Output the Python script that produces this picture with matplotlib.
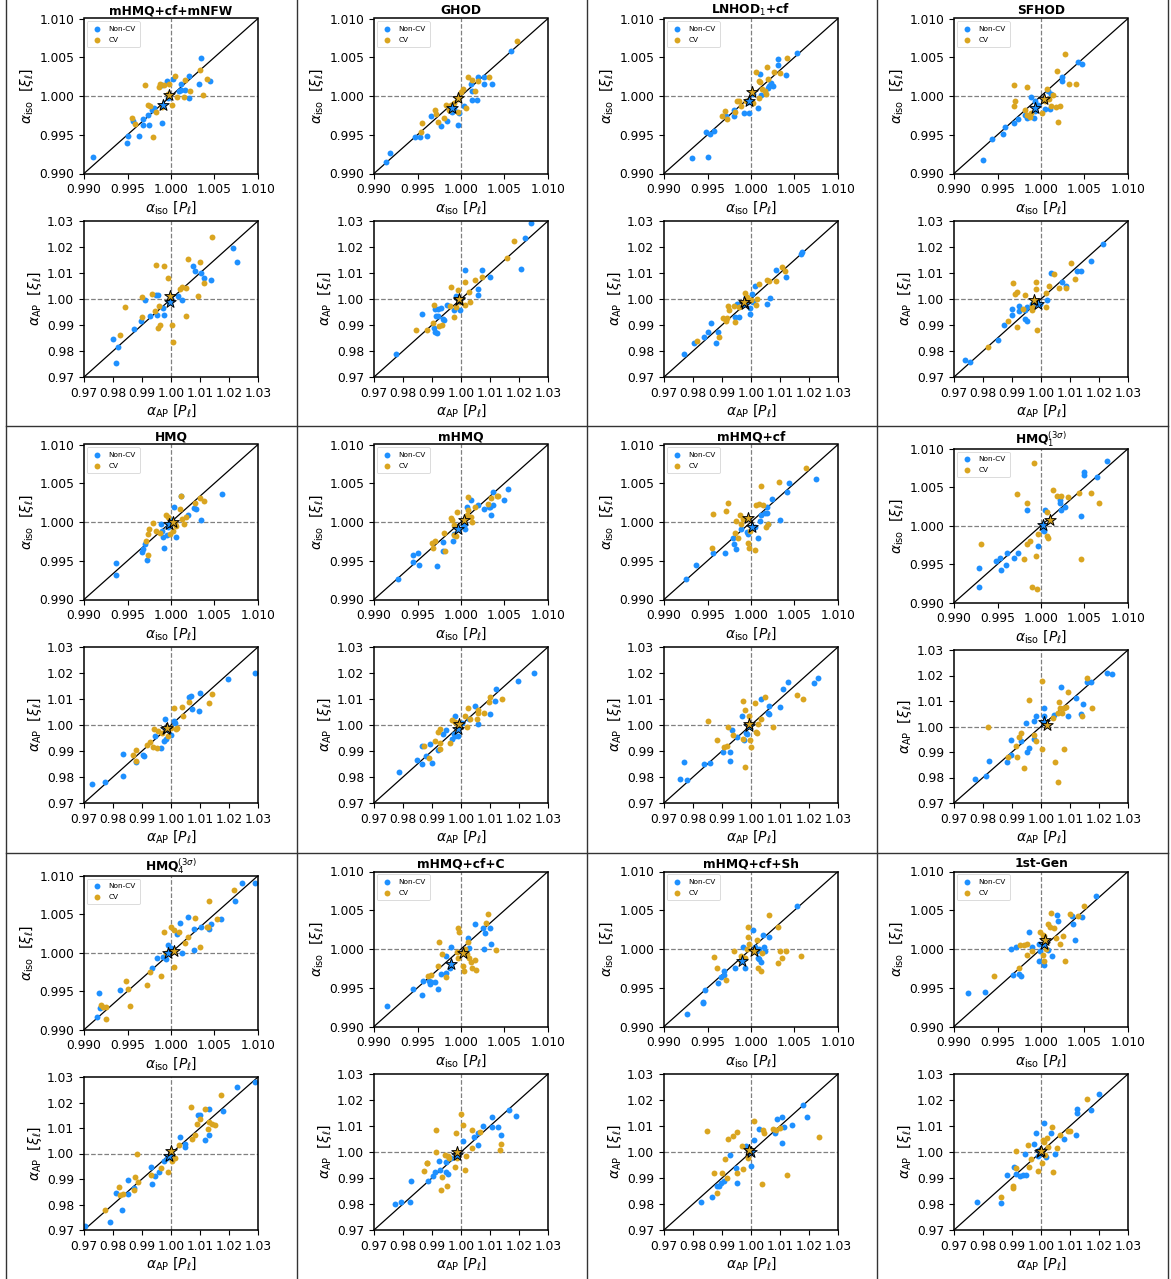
import matplotlib
matplotlib.use('Agg')
import matplotlib.pyplot as plt
from matplotlib.lines import Line2D

# ---------------- titles ----------------
titles = ['mHMQ+cf+mNFW', 'GHOD', r'LNHOD$_1$+cf', 'SFHOD',
          'HMQ', 'mHMQ', 'mHMQ+cf', r'HMQ$_1^{(3\sigma)}$',
          r'HMQ$_4^{(3\sigma)}$', 'mHMQ+cf+C', 'mHMQ+cf+Sh', '1st-Gen']

iso_ticks = [0.990, 0.995, 1.000, 1.005, 1.010]
ap_ticks = [0.97, 0.98, 0.99, 1.00, 1.01, 1.02, 1.03]

# ---------------- data: (alpha[P_l], alpha[xi_l]) ----------------
# Panel 1: mHMQ+cf+mNFW
p01_iso_ncv = [(0.9910,0.9921),(1.0035,1.0049),(1.0045,1.0020),(1.0032,1.0015),(1.0021,1.0026),(1.0012,1.0016),
               (1.0016,1.0008),(1.0012,1.0008),(1.0009,1.0006),(1.0021,0.9998),(1.0002,1.0022),(0.9995,1.0019),
               (0.9990,1.0014),(0.9997,0.9997),(0.9981,0.9984),(0.9978,0.9982),(0.9974,0.9975),(0.9968,0.9970),
               (0.9968,0.9962),(0.9975,0.9962),(0.9990,0.9965),(0.9963,0.9949),(0.9951,0.9948),(0.9949,0.9940),(0.9956,0.9968)]
p01_iso_cv = [(0.9970,1.0014),(0.9987,1.0016),(0.9986,1.0011),(0.9992,1.0014),(0.9998,1.0016),(1.0005,1.0026),
              (1.0016,1.0021),(1.0033,1.0034),(1.0041,1.0022),(1.0022,1.0006),(1.0037,1.0001),(1.0015,0.9999),
              (1.0007,0.9999),(1.0001,0.9989),(0.9990,0.9986),(0.9983,0.9980),(0.9974,0.9988),(0.9976,0.9987),
              (0.9955,0.9972),(0.9959,0.9964),(0.9979,0.9947),(0.9996,1.0002)]
p01_ap_ncv = [(0.9801,0.9845),(0.9816,0.9814),(0.9811,0.9754),(0.9873,0.9885),(0.9897,0.9915),(0.9909,0.9995),
              (0.9929,0.9936),(0.9952,0.9937),(0.9947,1.0014),(0.9956,1.0017),(0.9974,0.9964),(0.9975,0.9937),
              (0.9994,0.9988),(1.0000,1.0001),(1.0023,1.0010),(1.0037,0.9997),(1.0075,1.0126),(1.0083,1.0106),
              (1.0103,1.0100),(1.0113,1.0081),(1.0139,1.0074),(1.0214,1.0196),(1.0229,1.0144)]
p01_ap_cv = [(0.9824,0.9863),(0.9842,0.9971),(0.9901,1.0009),(0.9900,0.9931),(0.9934,1.0018),(0.9949,1.0132),
             (0.9976,1.0128),(0.9988,1.0080),(0.9960,0.9972),(0.9944,0.9953),(0.9955,0.9888),(0.9963,0.9901),
             (1.0003,0.9899),(1.0007,0.9836),(1.0052,0.9935),(1.0053,1.0044),(1.0037,1.0046),(1.0032,1.0038),
             (1.0057,1.0155),(1.0100,1.0142),(1.0115,1.0063),(1.0094,1.0010),(1.0142,1.0237)]

# Panel 2: GHOD
p02_iso_ncv = [(0.9914,0.9915),(0.9918,0.9927),(0.9947,0.9947),(0.9953,0.9947),(0.9961,0.9949),(0.9965,0.9974),
               (0.9977,0.9961),(0.9984,0.9968),(0.9997,0.9963),(0.9988,0.9981),(0.9992,0.9983),(0.9998,0.9978),
               (1.0003,0.9987),(1.0013,0.9995),(1.0018,0.9995),(1.0011,1.0016),(1.0013,1.0006),(1.0020,1.0024),
               (1.0026,1.0015),(1.0026,1.0025),(1.0036,1.0016),(1.0057,1.0058),(0.9987,0.9984),(0.9990,0.9979)]
p02_iso_cv = [(0.9954,0.9953),(0.9955,0.9965),(0.9970,0.9982),(0.9971,0.9977),(0.9974,0.9966),(0.9981,0.9971),
              (0.9983,0.9989),(0.9986,0.9982),(0.9989,0.9989),(0.9996,0.9980),(1.0006,0.9985),(1.0000,1.0005),
              (1.0002,1.0009),(1.0008,1.0025),(1.0013,1.0021),(1.0019,1.0019),(1.0016,1.0007),(1.0032,1.0025),
              (1.0064,1.0071),(0.9992,0.9991),(0.9997,0.9996)]
p02_ap_ncv = [(0.9776,0.9787),(0.9866,0.9944),(0.9911,0.9960),(0.9919,0.9960),(0.9931,0.9967),(0.9915,0.9935),
              (0.9922,0.9933),(0.9938,0.9924),(0.9942,0.9918),(0.9908,0.9887),(0.9911,0.9873),(0.9917,0.9869),
              (0.9951,0.9978),(0.9975,0.9956),(0.9995,0.9956),(0.9984,1.0013),(1.0013,1.0113),(1.0060,1.0040),
              (1.0060,1.0017),(1.0073,1.0110),(1.0100,1.0086),(1.0206,1.0115),(1.0221,1.0233),(1.0242,1.0291)]
p02_ap_cv = [(0.9844,0.9879),(0.9882,0.9879),(0.9908,0.9978),(0.9905,0.9908),(0.9923,0.9895),(0.9936,0.9901),
             (0.9967,1.0046),(0.9989,1.0036),(0.9975,0.9931),(0.9961,0.9973),(0.9982,0.9969),(1.0013,1.0065),
             (1.0047,1.0074),(1.0072,1.0085),(1.0029,1.0027),(1.0030,0.9988),(1.0013,0.9976),(1.0157,1.0158),
             (1.0182,1.0222),(0.9995,0.9988)]

# Panel 3: LNHOD1+cf
p03_iso_ncv = [(0.9932,0.9920),(0.9950,0.9921),(0.9948,0.9954),(0.9953,0.9951),(0.9958,0.9955),(0.9971,0.9974),
               (0.9981,0.9974),(0.9981,0.9982),(0.9992,0.9978),(0.9998,0.9978),(0.9997,0.9992),(1.0008,0.9984),
               (1.0011,1.0001),(1.0010,1.0028),(1.0020,1.0010),(1.0021,1.0013),(1.0025,1.0013),(1.0023,1.0017),
               (1.0031,1.0048),(1.0031,1.0040),(1.0040,1.0027),(1.0053,1.0056),(1.0002,1.0003)]
p03_iso_cv = [(0.9967,0.9974),(0.9970,0.9981),(0.9972,0.9970),(0.9984,0.9994),(0.9986,0.9994),(0.9989,0.9987),
              (0.9982,0.9979),(0.9994,0.9993),(1.0002,0.9991),(1.0006,1.0031),(1.0009,1.0020),(1.0010,1.0018),
              (1.0018,1.0037),(1.0020,1.0022),(1.0016,1.0006),(1.0009,0.9997),(1.0013,1.0009),(1.0027,1.0031),
              (1.0033,1.0030),(1.0041,1.0049),(1.0017,1.0003)]
p03_ap_ncv = [(0.9769,0.9788),(0.9805,0.9829),(0.9838,0.9852),(0.9850,0.9874),(0.9861,0.9906),(0.9886,0.9872),
              (0.9878,0.9832),(0.9946,0.9929),(0.9959,0.9929),(0.9951,0.9979),(0.9984,1.0009),(0.9995,0.9942),
              (0.9998,0.9964),(1.0007,0.9990),(1.0005,1.0019),(1.0013,1.0051),(1.0055,0.9979),(1.0067,1.0005),
              (1.0086,1.0112),(1.0122,1.0086),(1.0173,1.0173),(1.0175,1.0179)]
p03_ap_cv = [(0.9814,0.9838),(0.9890,0.9855),(0.9903,0.9926),(0.9917,0.9926),(0.9915,0.9915),(0.9920,0.9973),
             (0.9923,0.9958),(0.9943,0.9973),(0.9945,0.9913),(0.9958,0.9969),(0.9978,1.0024),(0.9985,1.0009),
             (1.0000,0.9996),(1.0018,0.9977),(1.0019,1.0000),(1.0028,1.0058),(1.0054,1.0073),(1.0061,1.0069),
             (1.0086,1.0068),(1.0106,1.0124),(1.0117,1.0108)]

# Panel 4: SFHOD
p04_iso_ncv = [(0.9933,0.9918),(0.9944,0.9945),(0.9956,0.9951),(0.9959,0.9960),(0.9969,0.9965),(0.9974,0.9970),
               (0.9982,0.9975),(0.9984,0.9972),(0.9988,0.9999),(0.9992,0.9971),(0.9993,0.9993),(0.9993,0.9981),
               (0.9996,0.9989),(1.0005,0.9983),(1.0008,1.0006),(1.0011,1.0003),(1.0010,0.9983),(1.0024,1.0024),
               (1.0024,1.0020),(1.0042,1.0044),(1.0047,1.0041),(1.0003,0.9995)]
p04_iso_cv = [(0.9969,1.0014),(0.9970,0.9994),(0.9969,0.9987),(0.9984,1.0011),(0.9982,0.9982),(0.9984,0.9975),
              (0.9987,0.9973),(0.9989,0.9978),(1.0001,0.9978),(1.0007,1.0009),(1.0009,0.9996),(1.0012,0.9987),
              (1.0014,1.0001),(1.0017,0.9986),(1.0022,0.9987),(1.0018,1.0032),(1.0020,0.9966),(1.0028,1.0054),
              (1.0032,1.0016),(1.0040,1.0015),(1.0005,0.9994)]
p04_ap_ncv = [(0.9737,0.9764),(0.9755,0.9758),(0.9850,0.9841),(0.9874,0.9899),(0.9900,0.9937),(0.9899,0.9963),
              (0.9924,0.9972),(0.9924,0.9953),(0.9944,0.9959),(0.9945,0.9922),(0.9951,0.9914),(0.9953,0.9969),
              (0.9970,0.9982),(0.9997,0.9982),(1.0021,0.9995),(1.0034,1.0101),(1.0073,1.0065),(1.0085,1.0049),
              (1.0123,1.0108),(1.0139,1.0108),(1.0171,1.0145),(1.0213,1.0212)]
p04_ap_cv = [(0.9818,0.9814),(0.9886,0.9914),(0.9917,0.9892),(0.9903,1.0060),(0.9909,1.0021),(0.9916,1.0027),
             (0.9946,1.0017),(0.9939,0.9962),(0.9968,0.9956),(0.9982,1.0065),(0.9982,1.0040),(0.9986,0.9879),
             (1.0017,0.9969),(1.0028,1.0050),(1.0016,1.0023),(1.0046,1.0097),(1.0062,1.0044),(1.0087,1.0042),
             (1.0104,1.0138),(1.0118,1.0078),(0.9969,0.9969)]

# Panel 5: HMQ
p05_iso_ncv = [(0.9937,0.9931),(0.9937,0.9947),(0.9972,0.9951),(0.9967,0.9961),(0.9968,0.9965),(0.9970,0.9971),
               (0.9990,0.9989),(0.9991,0.9981),(0.9992,0.9966),(0.9995,0.9983),(0.9997,0.9994),(1.0003,1.0020),
               (1.0006,0.9981),(1.0011,1.0034),(1.0019,1.0009),(1.0026,1.0018),(1.0029,1.0017),(1.0035,1.0002),
               (1.0059,1.0036),(1.0001,1.0003),(0.9989,0.9998)]
p05_iso_cv = [(0.9974,0.9958),(0.9971,0.9976),(0.9973,0.9984),(0.9975,0.9991),(0.9979,0.9999),(0.9983,0.9989),
              (0.9987,0.9986),(0.9994,1.0009),(0.9996,1.0006),(0.9999,0.9985),(1.0002,0.9988),(1.0006,0.9995),
              (1.0010,1.0017),(1.0011,1.0034),(1.0013,1.0004),(1.0015,0.9997),(1.0017,1.0007),(1.0028,1.0025),
              (1.0033,1.0031),(1.0038,1.0027),(1.0005,0.9998)]
p05_ap_ncv = [(0.9727,0.9775),(0.9771,0.9781),(0.9833,0.9887),(0.9835,0.9803),(0.9880,0.9859),(0.9904,0.9886),
              (0.9908,0.9882),(0.9946,0.9956),(0.9967,0.9913),(0.9975,0.9939),(0.9983,0.9946),(0.9979,1.0025),
              (0.9999,0.9961),(1.0011,1.0016),(1.0015,1.0006),(1.0061,1.0107),(1.0069,1.0112),(1.0071,1.0061),
              (1.0100,1.0122),(1.0097,1.0053),(1.0198,1.0176),(1.0290,1.0201)]
p05_ap_cv = [(0.9868,0.9884),(0.9878,0.9903),(0.9881,0.9862),(0.9917,0.9922),(0.9929,0.9936),(0.9937,0.9917),
             (0.9952,0.9913),(0.9940,0.9986),(0.9954,0.9977),(0.9968,0.9971),(0.9989,0.9956),(1.0009,1.0067),
             (1.0016,0.9984),(1.0019,0.9990),(1.0037,1.0070),(1.0040,1.0035),(1.0062,1.0089),(1.0132,1.0084),
             (1.0142,1.0120),(1.0000,0.9990)]

# Panel 6: mHMQ
p06_iso_ncv = [(0.9928,0.9926),(0.9945,0.9957),(0.9951,0.9960),(0.9945,0.9948),(0.9952,0.9944),(0.9972,0.9943),
               (0.9979,0.9963),(0.9979,0.9974),(0.9991,0.9975),(0.9992,0.9985),(1.0005,0.9991),(1.0005,0.9997),
               (1.0007,1.0019),(1.0011,1.0028),(1.0019,1.0022),(1.0026,1.0017),(1.0033,1.0020),(1.0034,1.0009),
               (1.0037,1.0022),(1.0037,1.0039),(1.0049,1.0029),(1.0054,1.0043),(1.0032,1.0019),(1.0002,0.9996)]
p06_iso_cv = [(0.9967,0.9973),(0.9970,0.9975),(0.9968,0.9966),(0.9981,0.9986),(0.9982,0.9963),(0.9988,1.0005),
              (0.9990,1.0003),(0.9992,0.9996),(0.9994,0.9982),(0.9995,1.0013),(1.0008,1.0032),(1.0008,1.0015),
              (1.0011,1.0006),(1.0013,1.0000),(1.0016,1.0020),(1.0031,1.0023),(1.0034,1.0031),(1.0041,1.0033),
              (1.0043,1.0033),(1.0007,1.0009),(0.9992,0.9983)]
p06_ap_ncv = [(0.9787,0.9821),(0.9849,0.9866),(0.9867,0.9850),(0.9866,0.9919),(0.9881,0.9881),(0.9892,0.9928),
              (0.9901,0.9853),(0.9922,0.9903),(0.9937,0.9964),(0.9948,0.9981),(0.9970,0.9945),(0.9981,1.0035),
              (0.9978,0.9958),(0.9990,0.9958),(1.0005,1.0006),(1.0029,1.0022),(1.0047,1.0073),(1.0057,1.0003),
              (1.0101,1.0041),(1.0117,1.0092),(1.0122,1.0137),(1.0198,1.0168),(1.0253,1.0201),(0.9975,0.9967)]
p06_ap_cv = [(0.9872,0.9919),(0.9889,0.9874),(0.9920,0.9973),(0.9927,0.9986),(0.9911,0.9937),(0.9929,0.9906),
             (0.9929,0.9932),(0.9963,0.9929),(0.9968,1.0019),(0.9979,1.0012),(0.9986,0.9990),(1.0015,1.0035),
             (1.0023,1.0067),(1.0021,0.9994),(1.0032,1.0024),(1.0056,1.0024),(1.0057,1.0056),(1.0080,1.0047),
             (1.0095,1.0088),(1.0101,1.0109),(1.0143,1.0101),(1.0058,1.0047)]

# Panel 7: mHMQ+cf
p07_iso_ncv = [(0.9925,0.9927),(0.9937,0.9945),(0.9956,0.9960),(0.9970,0.9960),(0.9979,0.9980),(0.9981,0.9972),
               (0.9983,0.9965),(0.9989,0.9991),(0.9995,0.9987),(0.9997,0.9984),(1.0008,0.9980),(1.0010,1.0001),
               (1.0011,1.0009),(1.0016,1.0012),(1.0018,1.0011),(1.0018,1.0019),(1.0020,0.9998),(1.0024,1.0030),
               (1.0033,1.0003),(1.0041,1.0039),(1.0044,1.0050),(1.0075,1.0056),(1.0005,0.9994)]
p07_iso_cv = [(0.9955,0.9966),(0.9956,1.0010),(0.9971,1.0014),(0.9973,1.0025),(0.9983,1.0001),(0.9982,0.9986),
              (0.9985,0.9979),(0.9987,1.0009),(0.9989,0.9997),(0.9991,1.0004),(0.9997,0.9973),(0.9998,0.9967),
              (1.0005,0.9964),(0.9999,0.9988),(1.0006,1.0022),(1.0009,1.0023),(1.0011,1.0046),(1.0014,1.0022),
              (1.0017,0.9994),(1.0020,0.9998),(1.0032,1.0052),(1.0063,1.0070)]
p07_ap_ncv = [(0.9755,0.9791),(0.9768,0.9857),(0.9780,0.9788),(0.9839,0.9849),(0.9857,0.9853),(0.9904,0.9897),
              (0.9927,0.9897),(0.9927,0.9862),(0.9936,0.9979),(0.9950,0.9955),(0.9969,1.0035),(0.9977,0.9942),
              (0.9987,0.9964),(1.0034,1.0099),(1.0061,1.0073),(1.0063,1.0041),(1.0060,1.0046),(1.0099,1.0071),
              (1.0112,1.0137),(1.0128,1.0167),(1.0217,1.0162),(1.0231,1.0181),(0.9983,0.9971)]
p07_ap_cv = [(0.9851,1.0017),(0.9882,0.9944),(0.9908,0.9917),(0.9917,0.9919),(0.9920,0.9994),(0.9937,0.9960),
             (0.9971,0.9945),(0.9974,1.0091),(0.9981,1.0058),(0.9979,0.9837),(0.9992,1.0035),(0.9995,0.9942),
             (0.9999,0.9915),(1.0013,1.0083),(1.0018,0.9973),(1.0023,1.0005),(1.0036,1.0022),(1.0048,1.0109),
             (1.0075,0.9992),(1.0159,1.0114),(1.0179,1.0101),(1.0022,0.9971)]

# Panel 8: HMQ_1^(3sigma)
p08_iso_ncv = [(0.9929,0.9921),(0.9929,0.9945),(0.9948,0.9954),(0.9953,0.9958),(0.9954,0.9943),(0.9960,0.9949),
               (0.9961,0.9964),(0.9969,0.9958),(0.9973,0.9964),(0.9984,1.0020),(0.9996,0.9974),(1.0002,0.9994),
               (1.0005,1.0020),(1.0023,1.0021),(1.0022,1.0034),(1.0022,1.0029),(1.0028,1.0024),(1.0046,1.0012),
               (1.0049,1.0070),(1.0050,1.0066),(1.0064,1.0063),(1.0076,1.0084),(1.0004,0.9993)]
p08_iso_cv = [(0.9931,0.9976),(0.9972,1.0041),(0.9984,1.0030),(0.9981,0.9957),(0.9984,0.9976),(0.9987,0.9980),
              (0.9990,0.9921),(0.9992,1.0082),(0.9994,0.9961),(0.9995,0.9918),(0.9996,0.9989),(1.0007,0.9987),
              (1.0008,0.9984),(1.0007,1.0018),(1.0014,1.0046),(1.0018,1.0039),(1.0023,1.0039),(1.0031,1.0037),
              (1.0044,1.0042),(1.0046,0.9957),(1.0057,1.0042),(1.0067,1.0030)]
p08_ap_ncv = [(0.9772,0.9796),(0.9812,0.9807),(0.9820,0.9866),(0.9884,0.9862),(0.9897,0.9887),(0.9898,0.9946),
              (0.9930,0.9942),(0.9947,1.0014),(0.9953,0.9900),(0.9959,0.9916),(0.9976,1.0021),(0.9976,0.9952),
              (0.9984,1.0041),(1.0010,1.0071),(1.0010,1.0041),(1.0045,1.0045),(1.0069,1.0155),(1.0094,1.0043),
              (1.0122,1.0110),(1.0139,1.0048),(1.0144,1.0089),(1.0159,1.0174),(1.0174,1.0174),(1.0229,1.0211),
              (1.0245,1.0204)]
p08_ap_cv = [(0.9818,1.0000),(0.9885,0.9881),(0.9916,0.9879),(0.9913,0.9925),(0.9923,0.9958),(0.9930,0.9975),
             (0.9942,0.9837),(0.9959,1.0102),(0.9976,0.9965),(0.9984,0.9945),(1.0005,0.9913),(1.0002,1.0178),
             (1.0047,0.9860),(1.0060,1.0054),(1.0062,1.0096),(1.0064,1.0073),(1.0073,1.0054),(1.0079,1.0073),
             (1.0079,0.9913),(1.0057,0.9781),(1.0086,1.0077),(1.0092,1.0136),(1.0157,1.0189),(1.0142,1.0041),
             (1.0177,1.0071),(1.0041,1.0034)]

# Panel 9: HMQ_4^(3sigma)
p09_iso_ncv = [(0.9915,0.9916),(0.9917,0.9948),(0.9918,0.9928),(0.9941,0.9952),(0.9978,0.9980),(0.9984,0.9993),
               (0.9994,0.9992),(0.9997,1.0010),(1.0000,1.0006),(1.0010,1.0038),(1.0007,1.0024),(1.0013,1.0000),
               (1.0019,1.0046),(1.0026,1.0031),(1.0027,1.0004),(1.0034,1.0034),(1.0044,1.0031),(1.0046,1.0037),
               (1.0057,1.0044),(1.0074,1.0067),(1.0082,1.0090),(1.0097,1.0090),(0.9991,0.9994)]
p09_iso_cv = [(0.9919,0.9932),(0.9922,0.9930),(0.9925,0.9930),(0.9925,0.9914),(0.9948,0.9963),(0.9951,0.9953),
              (0.9953,0.9931),(0.9972,0.9958),(0.9976,0.9975),(0.9988,0.9970),(0.9992,1.0027),(0.9994,1.0000),
              (1.0000,1.0033),(1.0003,0.9981),(1.0003,1.0029),(1.0009,1.0027),(1.0016,1.0013),(1.0020,1.0021),
              (1.0028,1.0045),(1.0033,1.0007),(1.0041,1.0033),(1.0044,1.0067),(1.0053,1.0044),(1.0072,1.0081),
              (1.0042,1.0034)]
p09_ap_ncv = [(0.9702,0.9717),(0.9791,0.9730),(0.9810,0.9847),(0.9830,0.9779),(0.9851,0.9841),(0.9853,0.9895),
              (0.9874,0.9864),(0.9931,0.9946),(0.9935,0.9879),(0.9945,0.9911),(0.9958,0.9929),(0.9975,0.9969),
              (0.9987,0.9982),(1.0031,1.0064),(1.0050,1.0038),(1.0050,1.0025),(1.0093,1.0152),(1.0100,1.0152),
              (1.0116,1.0054),(1.0131,1.0176),(1.0130,1.0071),(1.0178,1.0165),(1.0226,1.0261),(1.0288,1.0280)]
p09_ap_cv = [(0.9771,0.9779),(0.9819,0.9870),(0.9825,0.9837),(0.9834,0.9840),(0.9872,0.9855),(0.9877,0.9907),
             (0.9883,0.9999),(0.9887,0.9890),(0.9931,0.9916),(0.9966,0.9942),(0.9990,0.9929),(1.0002,0.9969),
             (1.0014,0.9982),(1.0028,1.0034),(1.0069,1.0181),(1.0072,1.0056),(1.0083,1.0073),(1.0088,1.0117),
             (1.0100,1.0136),(1.0118,1.0176),(1.0129,1.0096),(1.0132,1.0124),(1.0140,1.0115),(1.0152,1.0110),
             (1.0171,1.0228)]

# Panel 10: mHMQ+cf+C
p10_iso_ncv = [(0.9915,0.9927),(0.9945,0.9948),(0.9955,0.9941),(0.9956,0.9959),(0.9963,0.9959),(0.9964,0.9955),
               (0.9966,0.9957),(0.9970,0.9957),(0.9973,0.9949),(0.9977,0.9968),(0.9983,0.9969),(0.9987,0.9976),
               (0.9983,0.9991),(0.9988,1.0003),(1.0008,1.0014),(1.0005,0.9997),(1.0009,1.0001),(1.0016,1.0032),
               (1.0025,1.0027),(1.0026,1.0000),(1.0028,1.0021),(1.0033,1.0027),(1.0035,1.0007)]
p10_iso_cv = [(0.9962,0.9965),(0.9965,0.9966),(0.9974,0.9978),(0.9975,1.0009),(0.9978,0.9993),(0.9983,0.9964),
              (0.9997,1.0027),(0.9998,1.0022),(0.9995,0.9996),(0.9997,0.9988),(1.0002,0.9978),(1.0004,0.9971),
              (1.0008,1.0009),(1.0009,0.9988),(1.0011,0.9983),(1.0013,0.9976),(1.0016,0.9986),(1.0017,0.9973),
              (1.0029,1.0033),(1.0031,1.0045),(1.0040,0.9999),(1.0005,1.0000),(1.0007,0.9993)]
p10_ap_ncv = [(0.9774,0.9801),(0.9794,0.9806),(0.9823,0.9806),(0.9827,0.9890),(0.9886,0.9890),(0.9903,0.9906),
              (0.9909,0.9923),(0.9923,0.9964),(0.9929,0.9931),(0.9947,0.9922),(0.9956,0.9915),(0.9948,0.9960),
              (0.9967,0.9977),(1.0007,1.0044),(1.0044,1.0058),(1.0057,1.0028),(1.0058,1.0074),(1.0076,1.0101),
              (1.0107,1.0135),(1.0107,1.0097),(1.0127,1.0096),(1.0139,1.0064),(1.0167,1.0163),(1.0188,1.0140)]
p10_ap_cv = [(0.9874,0.9926),(0.9882,0.9958),(0.9883,0.9959),(0.9915,1.0083),(0.9915,0.9999),(0.9932,0.9853),
             (0.9936,0.9905),(0.9946,0.9987),(0.9950,0.9870),(0.9954,0.9983),(0.9958,0.9977),(0.9981,0.9942),
             (0.9983,1.0073),(1.0001,1.0147),(1.0006,1.0104),(1.0013,0.9932),(1.0018,0.9986),(1.0038,1.0083),
             (1.0037,1.0015),(1.0067,1.0078),(1.0133,1.0008),(1.0139,1.0031),(0.9986,0.9977)]

# Panel 11: mHMQ+cf+Sh
p11_iso_ncv = [(0.9926,0.9916),(0.9945,0.9932),(0.9945,0.9930),(0.9947,0.9947),(0.9962,0.9956),(0.9965,0.9964),
               (0.9969,0.9972),(0.9969,0.9967),(0.9982,0.9975),(0.9993,0.9976),(0.9991,1.0003),(1.0002,1.0025),
               (1.0005,1.0003),(1.0007,0.9997),(1.0008,0.9988),(1.0009,0.9987),(1.0011,0.9983),(1.0014,1.0018),
               (1.0016,0.9997),(1.0015,1.0002),(1.0021,1.0015),(1.0053,1.0056),(1.0009,1.0000)]
p11_iso_cv = [(0.9958,0.9990),(0.9961,0.9975),(0.9971,0.9960),(0.9981,0.9998),(0.9988,0.9991),(0.9989,0.9984),
              (0.9993,0.9989),(0.9996,1.0016),(0.9997,1.0028),(0.9998,1.0006),(1.0007,1.0011),(1.0008,0.9976),
              (1.0011,0.9972),(1.0013,0.9995),(1.0021,1.0044),(1.0031,1.0029),(1.0031,0.9982),(1.0033,0.9997),
              (1.0036,0.9989),(1.0040,0.9998),(1.0058,0.9991),(0.9995,1.0000)]
p11_ap_ncv = [(0.9826,0.9808),(0.9866,0.9826),(0.9883,0.9869),(0.9890,0.9871),(0.9898,0.9882),(0.9906,0.9888),
              (0.9929,0.9987),(0.9947,0.9938),(0.9953,0.9879),(1.0000,0.9947),(1.0011,1.0047),(1.0029,1.0088),
              (1.0083,1.0074),(1.0089,1.0127),(1.0107,1.0136),(1.0115,1.0097),(1.0107,1.0036),(1.0140,1.0105),
              (1.0178,1.0179),(1.0194,1.0133),(0.9984,1.0022)]
p11_ap_cv = [(0.9847,1.0082),(0.9873,0.9918),(0.9883,0.9841),(0.9900,0.9918),(0.9912,0.9973),(0.9917,0.9901),
             (0.9921,1.0051),(0.9938,1.0062),(0.9950,0.9921),(0.9953,1.0078),(0.9970,1.0024),(0.9974,0.9935),
             (0.9989,0.9977),(1.0011,1.0119),(1.0037,0.9877),(1.0040,1.0083),(1.0046,1.0072),(1.0076,1.0087),
             (1.0085,1.0085),(1.0099,1.0094),(1.0124,0.9912),(1.0233,1.0056)]

# Panel 12: 1st-Gen
p12_iso_ncv = [(0.9916,0.9943),(0.9936,0.9945),(0.9966,1.0000),(0.9971,1.0002),(0.9968,0.9966),(0.9975,0.9968),
               (0.9977,0.9965),(0.9986,1.0022),(0.9990,1.0003),(0.9998,1.0006),(0.9998,0.9984),(1.0004,0.9979),
               (1.0008,0.9999),(1.0013,0.9991),(1.0018,1.0044),(1.0019,1.0036),(1.0037,1.0032),(1.0036,1.0042),
               (1.0039,1.0011),(1.0047,1.0041),(1.0063,1.0069),(0.9999,0.9998)]
p12_iso_cv = [(0.9946,0.9965),(0.9975,0.9976),(0.9976,1.0005),(0.9980,1.0005),(0.9984,1.0006),(0.9984,0.9992),
              (0.9990,0.9998),(0.9999,1.0022),(1.0002,0.9992),(1.0003,0.9985),(1.0002,1.0018),(1.0006,1.0000),
              (1.0008,1.0032),(1.0011,1.0046),(1.0010,1.0028),(1.0015,1.0027),(1.0017,1.0014),(1.0022,1.0006),
              (1.0025,1.0017),(1.0028,0.9984),(1.0033,1.0045),(1.0043,1.0043),(1.0049,1.0055),(1.0003,1.0017)]
p12_ap_ncv = [(0.9778,0.9808),(0.9861,0.9803),(0.9883,0.9912),(0.9907,0.9942),(0.9913,0.9917),(0.9928,0.9906),
              (0.9937,0.9910),(0.9947,0.9910),(0.9945,0.9991),(0.9977,1.0031),(0.9982,1.0074),(0.9990,0.9985),
              (1.0009,1.0113),(1.0017,0.9981),(1.0033,1.0074),(1.0048,0.9992),(1.0080,1.0050),(1.0120,1.0064),
              (1.0125,1.0165),(1.0125,1.0151),(1.0172,1.0162),(1.0201,1.0223),(0.9994,1.0009)]
p12_ap_cv = [(0.9862,0.9826),(0.9903,0.9863),(0.9905,0.9869),(0.9913,0.9937),(0.9914,1.0003),(0.9954,1.0028),
             (0.9959,0.9944),(0.9966,0.9973),(0.9990,0.9928),(1.0002,0.9959),(1.0006,1.0047),(1.0011,1.0037),
             (1.0019,1.0053),(1.0025,1.0019),(1.0039,1.0095),(1.0042,0.9922),(1.0056,1.0014),(1.0065,1.0067),
             (1.0094,1.0080),(1.0100,1.0080),(1.0159,1.0204),(1.0014,0.9990)]

# Mean markers (stars), one per panel
star_iso_ncv = [(0.9991,0.9988),(0.9990,0.9984),(0.9998,0.9994),(0.9993,0.9985),(0.9998,0.9997),(0.9997,0.9991),
                (1.0001,0.9994),(1.0002,1.0001),(0.9996,0.9999),(0.9988,0.9981),(0.9990,0.9984),(1.0004,1.0007)]
star_iso_cv = [(0.9998,1.0001),(0.9997,0.9997),(1.0001,1.0005),(1.0003,0.9996),(1.0002,1.0000),(1.0004,1.0003),
               (0.9997,1.0005),(1.0010,1.0007),(1.0003,1.0002),(1.0002,0.9995),(1.0004,0.9997),(1.0005,1.0011)]
star_ap_ncv = [(0.9997,0.9988),(0.9992,0.9995),(0.9979,0.9979),(0.9989,0.9982),(0.9982,0.9984),(0.9990,0.9983),
               (0.9993,0.9996),(1.0010,1.0018),(0.9994,0.9991),(0.9985,0.9990),(1.0000,0.9999),(0.9998,1.0001)]
star_ap_cv = [(0.9998,1.0010),(0.9994,1.0000),(0.9977,0.9988),(0.9976,0.9995),(0.9987,0.9990),(0.9994,1.0003),
              (0.9992,1.0003),(1.0022,1.0004),(1.0000,1.0008),(0.9985,1.0001),(0.9994,1.0009),(1.0001,1.0005)]

iso_ncv = [p01_iso_ncv, p02_iso_ncv, p03_iso_ncv, p04_iso_ncv, p05_iso_ncv, p06_iso_ncv,
           p07_iso_ncv, p08_iso_ncv, p09_iso_ncv, p10_iso_ncv, p11_iso_ncv, p12_iso_ncv]
iso_cv = [p01_iso_cv, p02_iso_cv, p03_iso_cv, p04_iso_cv, p05_iso_cv, p06_iso_cv,
          p07_iso_cv, p08_iso_cv, p09_iso_cv, p10_iso_cv, p11_iso_cv, p12_iso_cv]
ap_ncv = [p01_ap_ncv, p02_ap_ncv, p03_ap_ncv, p04_ap_ncv, p05_ap_ncv, p06_ap_ncv,
          p07_ap_ncv, p08_ap_ncv, p09_ap_ncv, p10_ap_ncv, p11_ap_ncv, p12_ap_ncv]
ap_cv = [p01_ap_cv, p02_ap_cv, p03_ap_cv, p04_ap_cv, p05_ap_cv, p06_ap_cv,
         p07_ap_cv, p08_ap_cv, p09_ap_cv, p10_ap_cv, p11_ap_cv, p12_ap_cv]

# ---------------- drawing ----------------
W, H = 1171, 1279
fig = plt.figure(figsize=(W / 100, H / 100), dpi=100)
fig.patch.set_facecolor('white')

C_NCV = '#1E90FF'
C_CV = '#DAA520'

col_left = [84, 374, 664, 954]
row_base = [0, 426, 853]
ax_w = 174


def px_axes(x0, y0, w, h):
    return fig.add_axes([x0 / W, 1 - (y0 + h) / H, w / W, h / H])


def style(ax, lo, hi, ticks, fmt, xl, yl):
    ax.plot([lo, hi], [lo, hi], color='black', lw=0.9, zorder=1)
    ax.axvline(1.0, color='gray', ls='--', lw=0.9, zorder=0)
    ax.axhline(1.0, color='gray', ls='--', lw=0.9, zorder=0)
    ax.set_xlim(lo, hi)
    ax.set_ylim(lo, hi)
    ax.set_xticks(ticks)
    ax.set_yticks(ticks)
    ax.set_xticklabels([fmt.format(t) for t in ticks], fontsize=8.8)
    ax.set_yticklabels([fmt.format(t) for t in ticks], fontsize=8.8)
    ax.set_xlabel(xl, fontsize=10, labelpad=2)
    ax.set_ylabel(yl, fontsize=10, labelpad=2)
    for s in ax.spines.values():
        s.set_linewidth(1.1)


def scatter(ax, pts, color, label=None, z=2):
    xs = [p[0] for p in pts]
    ys = [p[1] for p in pts]
    ax.scatter(xs, ys, s=18, color=color, label=label, zorder=z, linewidths=0)


def star(ax, pt, color):
    ax.scatter([pt[0]], [pt[1]], marker='*', s=75, color=color,
               edgecolors='black', linewidths=0.7, zorder=4)


for i in range(12):
    r, c = divmod(i, 4)
    sup = i in (7, 8)
    x0 = col_left[c]
    if sup:
        y_top, h_top = row_base[r] + 22.7, 154
        y_bot, h_bot = row_base[r] + 224, 153
    else:
        y_top, h_top = row_base[r] + 18.5, 155
        y_bot, h_bot = row_base[r] + 221, 156

    ax1 = px_axes(x0, y_top, ax_w, h_top)
    style(ax1, 0.99, 1.01, iso_ticks, '{:.3f}',
          r'$\alpha_{\rm iso}$ $[P_\ell]$', r'$\alpha_{\rm iso}$  $[\xi_\ell]$')
    scatter(ax1, iso_ncv[i], C_NCV, 'Non-CV')
    scatter(ax1, iso_cv[i], C_CV, 'CV')
    star(ax1, star_iso_ncv[i], C_NCV)
    star(ax1, star_iso_cv[i], C_CV)
    ax1.set_title(titles[i], fontsize=8.8, fontweight='bold', pad=3)
    leg = ax1.legend(loc='upper left', fontsize=5.3, frameon=True, markerscale=1.0,
                     handletextpad=0.8, borderpad=0.6, labelspacing=0.6, handlelength=1.5,
                     borderaxespad=0.4)
    leg.get_frame().set_linewidth(0.6)

    ax2 = px_axes(x0, y_bot, ax_w, h_bot)
    style(ax2, 0.97, 1.03, ap_ticks, '{:.2f}',
          r'$\alpha_{\rm AP}$ $[P_\ell]$', r'$\alpha_{\rm AP}$  $[\xi_\ell]$')
    scatter(ax2, ap_ncv[i], C_NCV)
    scatter(ax2, ap_cv[i], C_CV)
    star(ax2, star_ap_ncv[i], C_NCV)
    star(ax2, star_ap_cv[i], C_CV)

# table grid lines
for xv in [6, 297, 587, 877, 1168]:
    fig.add_artist(Line2D([xv / W, xv / W], [0, 1], transform=fig.transFigure,
                          color='#333333', lw=1.0))
for yv in [426, 853]:
    fig.add_artist(Line2D([6 / W, 1168 / W], [1 - yv / H, 1 - yv / H], transform=fig.transFigure,
                          color='#333333', lw=1.0))

fig.savefig('out.png', dpi=100, facecolor='white')
